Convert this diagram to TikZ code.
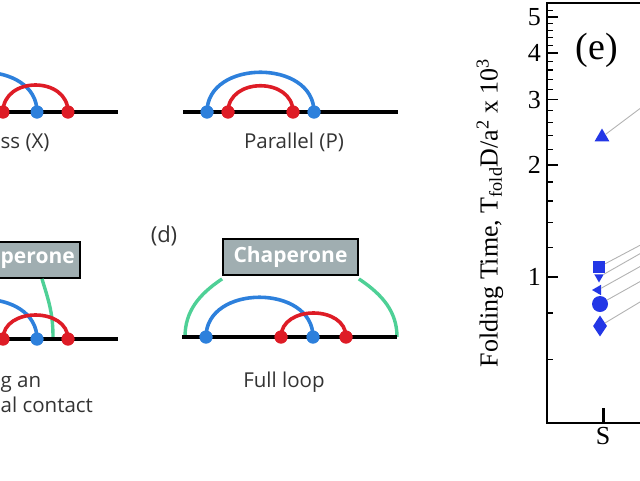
\documentclass[tikz,border=0pt]{standalone}
\usepackage{fontspec}
\setmainfont{Open Sans}
\newfontfamily\plotfont{Liberation Serif}
\usetikzlibrary{positioning,shapes.geometric}
\definecolor{arcblue}{RGB}{45,128,220}
\definecolor{arcred}{RGB}{222,28,38}
\definecolor{chapgreen}{RGB}{78,208,150}
\definecolor{chapgray}{RGB}{160,174,177}
\definecolor{txtgray}{RGB}{51,51,51}
\definecolor{markblue}{RGB}{35,55,230}

\begin{document}
\begin{tikzpicture}[x=1pt,y=-1pt,
bdot/.style={circle,fill=arcblue,inner sep=0pt,minimum size=13pt},
rdot/.style={circle,fill=arcred,inner sep=0pt,minimum size=13pt},
chain/.style={line width=4pt,black},
barc/.style={line width=3.6pt,arcblue},
rarc/.style={line width=3.6pt,arcred},
garc/.style={line width=3.4pt,chapgreen},
chap/.style={
rectangle,
draw=black,
line width=1.8pt,
fill=chapgray,
text=white,
font=\fontsize{21}{24}\selectfont\bfseries,
minimum width=135pt,
minimum height=36pt
},
chaptxt/.style={text=white,font=\fontsize{21}{24}\selectfont\bfseries,inner sep=0pt},
caption/.style={text=txtgray,font=\fontsize{20.5}{24}\selectfont,inner sep=0pt},
sym/.style={fill=markblue,inner sep=0pt},
guide/.style={black!30,line width=0.9pt},
frame/.style={line width=1.8pt,black},
plottxt/.style={font=\plotfont\fontsize{26}{30}\selectfont,inner sep=0pt},
]
\useasboundingbox (0,0) rectangle (640,480);

% cross
\node (xb1) [bdot] at (-70,112) {};
\node (xr1) [rdot] at (3,112) {};
\node (xb2) [bdot] at (37,112) {};
\node (xr2) [rdot] at (68,112) {};
\coordinate (xs) at (-10,112);
\coordinate (xe) at (118,112);
\draw[chain] (xs) -- (xe);
\draw[barc] (xb1.center) .. controls +(0,-53) and +(0,-53) .. (xb2.center);
\draw[rarc] (xr1.center) .. controls +(0,-36) and +(0,-36) .. (xr2.center);
\node (xb1) [bdot] at (-70,112) {};
\node (xr1) [rdot] at (3,112) {};
\node (xb2) [bdot] at (37,112) {};
\node (xr2) [rdot] at (68,112) {};
\node (xlab) [caption,anchor=base west] at (0.5,148) {ss (X)};

% parallel
\coordinate (ps) at (183,112);
\coordinate (pe) at (398,112);
\draw[chain] (ps) -- (pe);
\node (pb1) [bdot] at (207,112) {};
\node (pr1) [rdot] at (228,112) {};
\node (pr2) [rdot] at (293,112) {};
\node (pb2) [bdot] at (314,112) {};
\draw[barc] (pb1.center) .. controls +(0,-53) and +(0,-53) .. (pb2.center);
\draw[rarc] (pr1.center) .. controls +(0,-35) and +(0,-35) .. (pr2.center);
\node (pb1) [bdot] at (207,112) {};
\node (pr1) [rdot] at (228,112) {};
\node (pr2) [rdot] at (293,112) {};
\node (pb2) [bdot] at (314,112) {};
\node (plab) [caption,anchor=base] at (294,148) {Parallel (P)};

% extra contact
\node (chapc) [chap] at (12.5,260) {};
\node (chapctxt) [chaptxt,anchor=west] at (0.5,260) {perone};
\coordinate (cs) at (-10,339);
\coordinate (ce) at (118,339);
\coordinate (cg) at (53,337);
\draw[garc] ([xshift=29.5pt]chapc.south) .. controls +(6,20) and +(0,-25) .. (cg);
\draw[chain] (cs) -- (ce);
\node (cb1) [bdot] at (-70,339) {};
\node (cr1) [rdot] at (3,339) {};
\node (cb2) [bdot] at (37,339) {};
\node (cr2) [rdot] at (68,339) {};
\draw[barc] (cb1.center) .. controls +(0,-53) and +(0,-53) .. (cb2.center);
\draw[rarc] (cr1.center) .. controls +(0,-32) and +(0,-32) .. (cr2.center);
\node (cr1) [rdot] at (3,339) {};
\node (cb2) [bdot] at (37,339) {};
\node (cr2) [rdot] at (68,339) {};
\node (clab1) [caption,anchor=base west] at (0.5,387) {g an};
\node (clab2) [caption,anchor=base west] at (0.5,412) {al contact};

% full loop
\node (dlab) [caption,font=\fontsize{22}{24}\selectfont] at (164,236) {(d)};
\node (chapd) [chap] at (290.5,257) {Chaperone};
\coordinate (dgl) at (185,337);
\coordinate (dgr) at (397,337);
\draw[garc] ([yshift=-3pt]chapd.south west) .. controls +(-24,16) and +(0,-25) .. (dgl);
\draw[garc] ([yshift=-3pt]chapd.south east) .. controls +(24,16) and +(0,-25) .. (dgr);
\draw[chain] (182,337) -- (dgr);
\node (db1) [bdot] at (206,337) {};
\node (dr1) [rdot] at (281,337) {};
\node (db2) [bdot] at (313,337) {};
\node (dr2) [rdot] at (346,337) {};
\draw[barc] (db1.center) .. controls +(0,-53) and +(0,-53) .. (db2.center);
\draw[rarc] (dr1.center) .. controls +(0,-32) and +(0,-32) .. (dr2.center);
\node (db1) [bdot] at (206,337) {};
\node (dr1) [rdot] at (281,337) {};
\node (db2) [bdot] at (313,337) {};
\node (dr2) [rdot] at (346,337) {};
\node (flab) [caption,anchor=base] at (284,387) {Full loop};

% plot (e)
\draw[frame] (640,3) -- (547,3) -- (547,423) -- (640,423);
\foreach \v in {0.6,0.8,1.2,1.4,1.6,1.8,2.2,2.4,2.6,2.8,3.2,3.4,3.6,3.8,4.2,4.4,4.6,4.8,5.2}{
\pgfmathsetmacro\ty{277-372*log10(\v)}
\draw[line width=1.2pt] (547,\ty) -- (553,\ty);
}
\foreach \v in {1,2,3,4,5}{
\pgfmathsetmacro\ty{277-372*log10(\v)}
\draw[frame] (547,\ty) -- (558,\ty);
\node (ytick\v) [plottxt,anchor=east] at (541,\ty) {\v};
}
\draw[line width=3pt] (603,408) -- (603,423);
\node (slab) [plottxt,anchor=north] at (603,427) {S};
\node (elab) [plottxt,font=\plotfont\fontsize{38}{40}\selectfont] at (597,50) {(e)};
\node (ylab) [plottxt,rotate=90] at (490,213) {Folding Time, T\textsubscript{fold}D/a\textsuperscript{2} x 10\textsuperscript{3}};

\coordinate (etri) at (650,101);
\coordinate (esq) at (650,240);
\coordinate (edtri) at (650,248);
\coordinate (eltri) at (650,261);
\coordinate (ecirc) at (650,276);
\coordinate (ediam) at (650,296);
\node (stri) [sym,regular polygon,regular polygon sides=3,minimum size=17pt] at (602,137) {};
\node (ssq) [sym,rectangle,minimum size=12pt] at (599,267) {};
\node (sdtri) [sym,regular polygon,regular polygon sides=3,shape border rotate=180,minimum size=11pt] at (599,277) {};
\node (sltri) [sym,regular polygon,regular polygon sides=3,shape border rotate=90,minimum size=12pt] at (598,290) {};
\node (scirc) [sym,circle,minimum size=16pt] at (600,304) {};
\node (sdiam) [sym,diamond,minimum width=14pt,minimum height=21pt] at (600,326) {};
\draw[guide] (stri) -- (etri);
\draw[guide] (ssq) -- (esq);
\draw[guide] (sdtri) -- (edtri);
\draw[guide] (sltri) -- (eltri);
\draw[guide] (scirc) -- (ecirc);
\draw[guide] (sdiam) -- (ediam);
\end{tikzpicture}
\end{document}
